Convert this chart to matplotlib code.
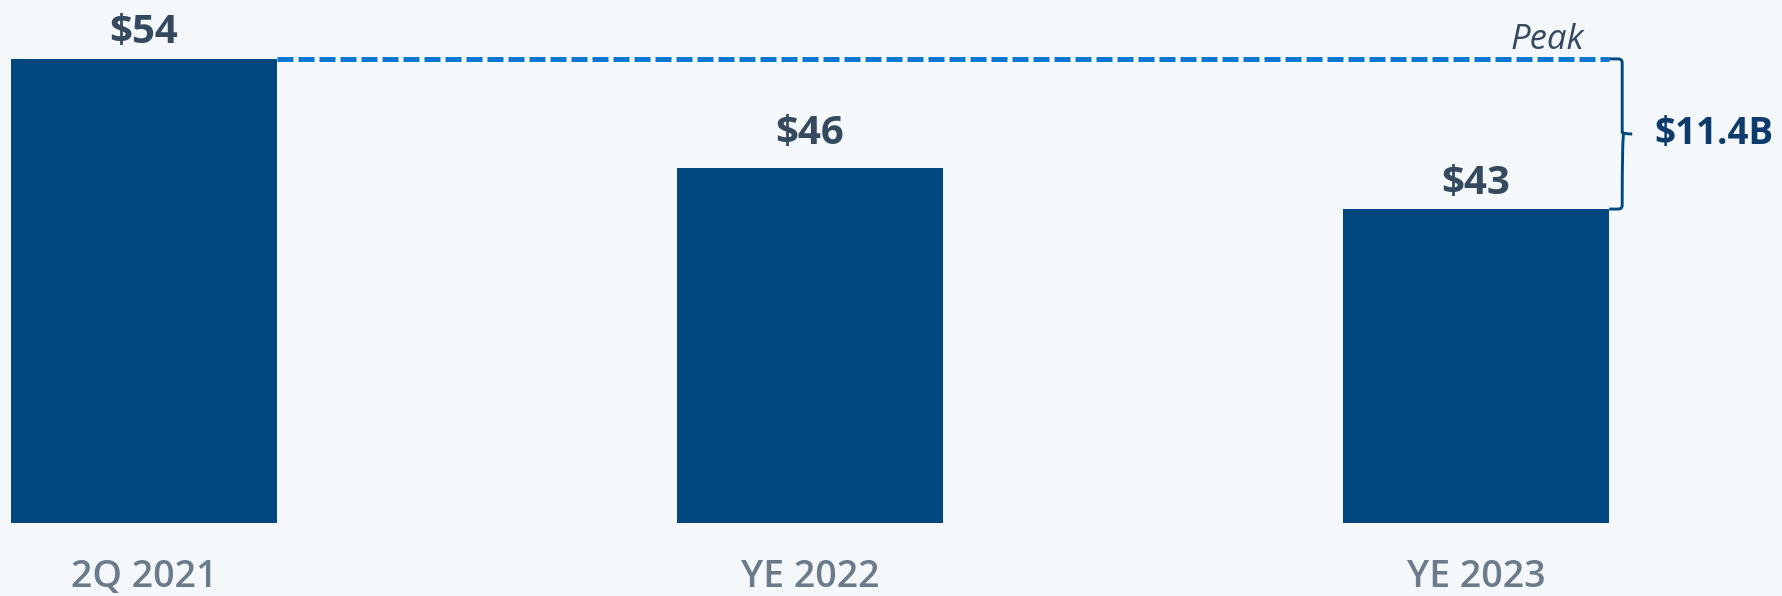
import matplotlib
matplotlib.use("Agg")
import matplotlib.pyplot as plt
from matplotlib.path import Path
from matplotlib.patches import PathPatch
from matplotlib.transforms import blended_transform_factory

# Data
categories = ["2Q 2021", "YE 2022", "YE 2023"]
values = [54, 46, 43]
value_labels = ["$54", "$46", "$43"]
peak_label = "Peak"
decline_label = "$11.4B"
baseline = 20

BG = "#f5f8fa"
BAR = "#00467f"
DASH = "#0a78d2"
VALUE_TXT = "#354a5f"
CAT_TXT = "#6b7b8b"
DECLINE_TXT = "#0c3b6c"
FONT = ["Open Sans", "DejaVu Sans"]

W, H = 1783, 596
fig = plt.figure(figsize=(W / 100, H / 100), dpi=100, facecolor=BG)

px_per_cat = 666.0
first_center = 144.0
px_per_unit = 13.65
base_row = 523.0

ax = fig.add_axes([0, (H - base_row) / H, 1, base_row / H])
ax.set_facecolor(BG)
ax.set_xlim(-first_center / px_per_cat, (W - first_center) / px_per_cat)
ax.set_ylim(baseline, baseline + base_row / px_per_unit)
ax.axis("off")

x = list(range(len(categories)))
bar_w = 0.4
ax.bar(x, [v - baseline for v in values], bottom=baseline, width=bar_w,
       color=BAR, edgecolor="none", zorder=2)

# Value labels above the bars
gaps = [16, 24, 15]
for xi, v, lab, g in zip(x, values, value_labels, gaps):
    ax.annotate(lab, (xi, v), xytext=(0, g * 0.72), textcoords="offset points",
                ha="center", va="baseline", fontsize=29, fontweight="bold",
                color=VALUE_TXT, family=FONT)

# Category labels under the bars
tr = blended_transform_factory(ax.transData, fig.transFigure)
for xi, c in zip(x, categories):
    ax.text(xi, 9 / H, c, transform=tr, ha="center", va="baseline",
            fontsize=27, fontweight="semibold", color=CAT_TXT, family=FONT,
            clip_on=False)

# Dashed peak reference line
peak = values[0]
low = values[-1]
x_start = x[0] + bar_w / 2
x_end = x[-1] + bar_w / 2
ax.plot([x_start, x_end], [peak, peak], color=DASH, lw=3.6,
        dashes=(3.2, 1.0), solid_capstyle="butt", dash_capstyle="butt",
        zorder=3)
ax.annotate(peak_label, (x_end, peak), xytext=(-62 * 0.72, 10 * 0.72),
            textcoords="offset points", ha="center", va="baseline",
            fontsize=25, fontstyle="italic", fontweight="normal",
            color=VALUE_TXT, family=FONT)

# Curly bracket spanning the decline
dxp = 1.0 / px_per_cat
dyp = 1.0 / px_per_unit
xv = x_end + 13 * dxp
xt = x_end + 23 * dxp
mid = (peak + low) / 2
r = 4
verts = [
    (x_end, peak), (xv - r * dxp, peak), (xv, peak), (xv, peak - r * dyp),
    (xv, mid + 1.5 * dyp), (xv + 1.5 * dxp, mid), (xt, mid),
    (xv + 1.5 * dxp, mid), (xv, mid - 1.5 * dyp),
    (xv, low + r * dyp), (xv, low), (xv - r * dxp, low), (x_end, low),
]
codes = [Path.MOVETO, Path.LINETO, Path.CURVE3, Path.CURVE3,
         Path.LINETO, Path.CURVE3, Path.LINETO,
         Path.MOVETO, Path.CURVE3,
         Path.LINETO, Path.CURVE3, Path.CURVE3, Path.LINETO]
ax.add_patch(PathPatch(Path(verts, codes), fill=False, edgecolor=BAR,
                       lw=2.1, capstyle="butt", zorder=3, clip_on=False))

ax.annotate(decline_label, (xt, mid), xytext=(22 * 0.72, 0),
            textcoords="offset points", ha="left", va="center",
            fontsize=26.5, fontweight="bold", color=DECLINE_TXT, family=FONT)

fig.savefig("out.png", dpi=100, facecolor=BG)
